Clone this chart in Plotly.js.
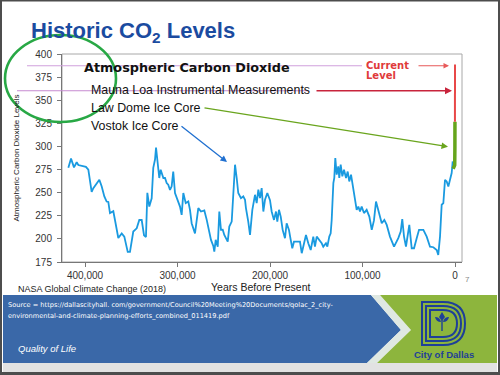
<!DOCTYPE html>
<html>
<head>
<meta charset="utf-8">
<script src="https://cdn.plot.ly/plotly-3.0.1.min.js"></script>
<style>html,body{margin:0;padding:0;background:#fff;}#chart{width:500px;height:375px;}</style>
</head>
<body>
<div id="chart"></div>
<script>
// ---- data (years before present, CO2 ppm) ----
const vostokYears = [418000,415100,411900,409000,407200,399000,396400,392800,391000,384500,382000,379100,376600,374800,373000,369400,367600,364000,360300,357500,353800,351400,347800,344100,341300,338700,336200,334100,332600,330500,327900,326200,324300,323200,321400,319700,318200,315300,313500,311700,310000,308100,306300,304600,302700,299800,297300,295500,293700,291100,288300,286500,284700,281100,277500,274600,271000,268400,266700,263800,261300,260200,258700,256500,254800,253000,251100,249400,245700,244000,241400,239700,237800,236000,234300,231400,228900,227000,226000,223500,221600,219100,216200,214400,212600,210800,209000,207200,205400,202900,200000,198200,195700,193500,192100,190300,188400,186300,183800,182000,179500,177600,175900,174100,167600,165700,163200,161100,158600,156000,153200,151400,149500,146700,144100,142400,139500,138000,135900,134400,133300,131500,130500,129400,127900,126200,125100,123600,121800,120000,117800,116000,114300,112400,110600,108100,106300,104500,102700,100900,98400,95500,92600,90000,87600,85400,82900,79200,76400,73800,70300,65900,61300,58700,57000,55100,53000,51100,49400,46800,44300,41400,38900,34200,30600,27000,23400,19800,18100,16200,14400,12600,10800,9000,7200,5400,3600,2500];
const vostokCO2 = [277,287,277.5,283,280,278,275,251,255,264,257,246,240.5,240,228,230,220.5,201,206,202.5,186,186,208,211.5,220.5,220.5,204,202,250,235,244,277,286,299,282,266,275,266,266,260.5,258.7,253,257,273,249.7,240.5,235,226,249.7,238.8,240.5,231.5,217,206,233.4,229.7,230.8,220.6,213.4,198.9,192.4,186.2,199,191.6,229.7,209.8,210,204.3,197,213.4,218.8,253.3,280.4,266,249.7,244.2,246,242.4,233.4,218.8,204.3,231.5,247.8,238.8,253.3,244.2,255,229.7,242.4,249.7,242,229.7,220.6,229.7,218.8,231.5,224.2,209.8,200.8,217,209.8,199,189.9,197,197,184.5,195.3,204.3,195.3,188,202.5,191.6,202.5,199,195.3,191.6,195.3,191.6,202.5,206,220.6,260.5,266,287.7,269.6,278.6,266,280.4,267.8,275,266,273,262.3,269.6,256.8,242.4,231.5,235,229.7,235,228,231.5,224.2,209.8,220,240.5,229.7,217,220.6,215.2,202.5,191.6,200.8,208,221.4,202.5,191.6,202.5,215.2,189.9,189.9,200.8,209.8,209.8,202.5,191.6,191,188,182.6,202.5,237,238.8,264,262.3,256.8,264,271.4,284];
const lawDomeYears = [2000, 1000, 300, 100, 40];
const lawDomeCO2 = [276, 279, 280, 300, 327];
const maunaYears = [60, 40, 20, 0];
const maunaCO2 = [327, 340, 365, 389];
const xTickVals = [400000, 300000, 200000, 100000, 0];
const xTickLabels = ['400,000', '300,000', '200,000', '100,000', '0'];
const yTickVals = [175, 200, 225, 250, 275, 300, 325, 350, 375, 400];

// ---- pixel -> paper helpers (plot area 62..462 x, 54..262 y) ----
const X = px => (px - 62) / 400;
const Y = py => (262 - py) / 208;
function pathPx(str) {
  const toks = str.match(/[A-Za-z]|-?\d*\.?\d+/g);
  let out = [], nums = [];
  for (const t of toks) {
    if (/[A-Za-z]/.test(t)) { out.push(t); }
    else {
      nums.push(parseFloat(t));
      if (nums.length === 2) { out.push(X(nums[0]).toFixed(5) + ',' + Y(nums[1]).toFixed(5)); nums = []; }
    }
  }
  return out.join(' ');
}

const FONT = 'Liberation Sans, Arial, sans-serif';
const traces = [
  {x: vostokYears, y: vostokCO2, type: 'scatter', mode: 'lines', line: {color: '#1a9ae0', width: 1.8}, hoverinfo: 'skip'},
  {x: lawDomeYears, y: lawDomeCO2, type: 'scatter', mode: 'lines', line: {color: '#66a51c', width: 3.5}, hoverinfo: 'skip'},
  {x: maunaYears, y: maunaCO2, type: 'scatter', mode: 'lines', line: {color: '#e84848', width: 2}, hoverinfo: 'skip'}
];

function txt(t, px, py, size, opts) {
  opts = opts || {};
  return Object.assign({text: t, xref: 'paper', yref: 'paper', x: X(px), y: Y(py), xanchor: opts.xanchor || 'left', yanchor: 'middle', showarrow: false,
    font: {family: opts.family || FONT, size: size, color: opts.color || '#111'}}, opts.extra || {});
}
function arrow(x0, y0, x1, y1, color, w) {
  return {text: '', xref: 'paper', yref: 'paper', x: X(x1), y: Y(y1), ax: x0 - x1, ay: y0 - y1, axref: 'pixel', ayref: 'pixel',
    showarrow: true, arrowhead: 2, arrowsize: 1, arrowwidth: w, arrowcolor: color, standoff: 0, startstandoff: 0};
}

const annotations = [
  txt('<b>Historic CO<sub>2</sub> Levels</b>', 29, 32, 22, {color: '#1b4ba0'}),
  txt('<b>Atmospheric Carbon Dioxide</b>', 82, 67.5, 12.8, {family: 'DejaVu Sans, sans-serif'}),
  txt('Mauna Loa Instrumental Measurements', 89, 90, 12.4),
  txt('Law Dome Ice Core', 89, 107.5, 12.4),
  txt('Vostok Ice Core', 89, 125.5, 12.4),
  txt('<b>Current</b>', 364, 65.5, 10, {family: 'DejaVu Sans, sans-serif', color: '#e03a3a'}),
  txt('<b>Level</b>', 364, 75.5, 10, {family: 'DejaVu Sans, sans-serif', color: '#e03a3a'}),
  txt('Years Before Present', 261, 287, 10.5, {xanchor: 'center', color: '#222'}),
  txt('NASA Global Climate Change (2018)', 16, 289, 9, {color: '#222'}),
  txt('7', 468, 279, 8, {xanchor: 'center', color: '#888'}),
  txt('Source = https://dallascityhall. com/government/Council%20Meeting%20Documents/qolac_2_city-', 6, 305, 6.6, {family: 'DejaVu Sans, sans-serif', color: '#fff'}),
  txt('environmental-and-climate-planning-efforts_combined_011419.pdf', 6, 315.5, 6.6, {family: 'DejaVu Sans, sans-serif', color: '#fff'}),
  txt('<i>Quality of Life</i>', 16, 348, 9.5, {color: '#fff'}),
  txt('<b>City of Dallas</b>', 444, 354, 9.5, {xanchor: 'center', color: '#1e3f98'}),
  arrow(417, 65.7, 449, 65.7, '#e85a5a', 1.1),
  arrow(315, 90.7, 452, 90.7, '#c8243c', 1.4),
  arrow(203, 107.7, 448, 146.7, '#6aa51e', 1.3),
  arrow(180, 125, 227, 162, '#2070d0', 1.3)
];

const shapes = [
  {type: 'rect', xref: 'paper', yref: 'paper', x0: 0, x1: 1, y0: 0, y1: 1, line: {color: '#a8a8a8', width: 1}, layer: 'below'},
  {type: 'line', xref: 'paper', yref: 'paper', x0: X(27), x1: X(362), y0: Y(65.7), y1: Y(65.7), line: {color: '#d0a0dc', width: 1.1}},
  {type: 'line', xref: 'paper', yref: 'paper', x0: X(17), x1: X(308), y0: Y(90.7), y1: Y(90.7), line: {color: '#c68ad0', width: 1.1}},
  {type: 'path', xref: 'paper', yref: 'paper', path: pathPx('M 3 295 L 371 295 L 401 330 L 367 363 L 3 363 Z'), fillcolor: '#3a68a8', line: {width: 0}},
  {type: 'path', xref: 'paper', yref: 'paper', path: pathPx('M 371 295 L 380 295 L 411 330 L 377 363 L 367 363 L 401 330 Z'), fillcolor: '#dfe8e2', line: {width: 0}},
  {type: 'path', xref: 'paper', yref: 'paper', path: pathPx('M 380 295 L 497 295 L 497 363 L 377 363 L 411 330 Z'), fillcolor: '#8db53d', line: {width: 0}},
  {type: 'rect', xref: 'paper', yref: 'paper', x0: X(3), x1: X(497), y0: Y(372), y1: Y(363), fillcolor: '#e2e2e2', line: {width: 0}},
  {type: 'path', xref: 'paper', yref: 'paper', path: pathPx('M 422 345 L 422 302 L 443 302 Q 465 302 465 323.5 Q 465 345 443 345 Z'), line: {color: '#1e3f98', width: 2}},
  {type: 'path', xref: 'paper', yref: 'paper', path: pathPx('M 426 341 L 426 306 L 443 306 Q 461 306 461 323.5 Q 461 341 443 341 Z'), line: {color: '#1e3f98', width: 2}},
  {type: 'path', xref: 'paper', yref: 'paper', path: pathPx('M 430 337 L 430 310 L 443 310 Q 457 310 457 323.5 Q 457 337 443 337 Z'), line: {color: '#1e3f98', width: 2}},
  {type: 'path', xref: 'paper', yref: 'paper', path: pathPx('M 442 312 L 445 317 L 442 321 L 439 317 Z'), fillcolor: '#1e3f98', line: {width: 0}},
  {type: 'path', xref: 'paper', yref: 'paper', path: pathPx('M 441.3 320 L 442.7 320 L 442.7 331 L 441.3 331 Z'), fillcolor: '#1e3f98', line: {width: 0}},
  {type: 'path', xref: 'paper', yref: 'paper', path: pathPx('M 441 322 Q 436 322 435 317 Q 440 317 441 322 Z'), fillcolor: '#1e3f98', line: {width: 0}},
  {type: 'path', xref: 'paper', yref: 'paper', path: pathPx('M 443 322 Q 448 322 449 317 Q 444 317 443 322 Z'), fillcolor: '#1e3f98', line: {width: 0}},
  {type: 'circle', xref: 'paper', yref: 'paper', x0: X(5), x1: X(116), y0: Y(122), y1: Y(35), line: {color: '#28a845', width: 2.6}},
  {type: 'rect', xref: 'paper', yref: 'paper', x0: X(0), x1: X(2), y0: Y(375), y1: Y(0), fillcolor: '#4d4d4d', line: {width: 0}},
  {type: 'rect', xref: 'paper', yref: 'paper', x0: X(498), x1: X(500), y0: Y(375), y1: Y(0), fillcolor: '#4d4d4d', line: {width: 0}},
  {type: 'rect', xref: 'paper', yref: 'paper', x0: X(0), x1: X(500), y0: Y(1.5), y1: Y(0), fillcolor: '#4d4d4d', line: {width: 0}},
  {type: 'rect', xref: 'paper', yref: 'paper', x0: X(0), x1: X(500), y0: Y(375), y1: Y(372), fillcolor: '#4d4d4d', line: {width: 0}}
];

const layout = {
  width: 500, height: 375, autosize: false,
  margin: {l: 62, r: 38, t: 54, b: 113, pad: 0},
  paper_bgcolor: '#fff', plot_bgcolor: '#fff',
  showlegend: false,
  font: {family: FONT, color: '#333'},
  xaxis: {range: [424865, -7568], tickvals: xTickVals, ticktext: xTickLabels, ticks: 'outside', ticklen: 4, tickcolor: '#777',
    showline: true, linecolor: '#777', linewidth: 1, showgrid: false, zeroline: false, tickfont: {size: 10, color: '#333'}},
  yaxis: {range: [175, 400.3], tickvals: yTickVals, ticks: 'outside', ticklen: 4, tickcolor: '#777', ticklabelstandoff: 3,
    showline: true, linecolor: '#777', linewidth: 1, showgrid: false, zeroline: false, tickfont: {size: 10, color: '#333'},
    title: {text: 'Atmospheric Carbon Dioxide Levels', font: {size: 8, color: '#222'}, standoff: 14}},
  annotations: annotations,
  shapes: shapes
};

Plotly.newPlot('chart', traces, layout, {displayModeBar: false, staticPlot: true});
</script>
</body>
</html>
